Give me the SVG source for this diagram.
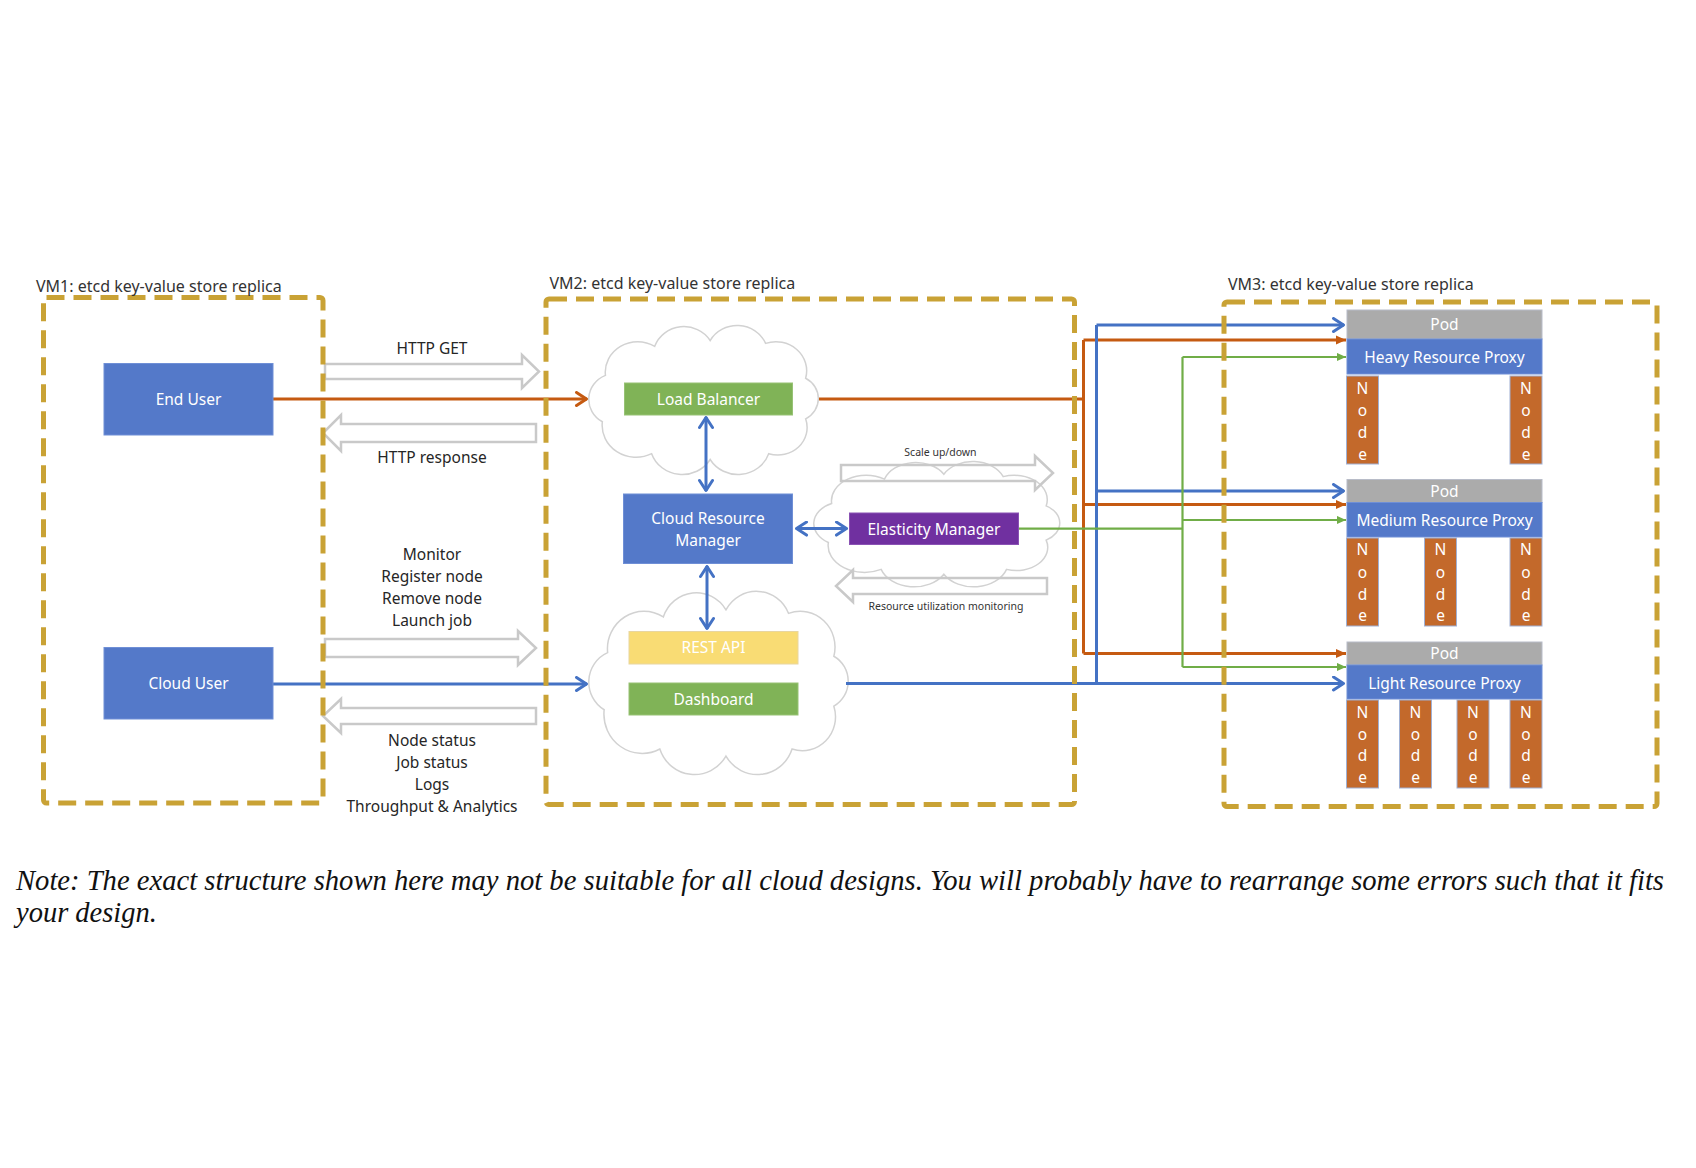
<svg xmlns="http://www.w3.org/2000/svg" xmlns:xlink="http://www.w3.org/1999/xlink" width="1696" height="1168" viewBox="0 0 1696 1168">
<style>
  text { font-family: "Noto Sans", "Open Sans", sans-serif; }
  .vm { fill: none; stroke: #C9A235; stroke-width: 5; stroke-dasharray: 18 9; stroke-linejoin: round; }
  .vml { font-size: 16px; fill: #333; }
  .lbl { font-size: 15.5px; fill: #262626; text-anchor: middle; }
  .sm { font-size: 10.5px; fill: #333; text-anchor: middle; }
  .nt { font-size: 15.5px; fill: #fff; text-anchor: middle; }
  .hollow { fill: none; stroke: #C9C9C9; stroke-width: 2.5; }
  .cloud { fill: #fff; stroke: #D2D2D2; stroke-width: 1.5; }
  .bl { fill: none; stroke: #4472C4; stroke-width: 3; }
  .ol { fill: none; stroke: #C55A11; stroke-width: 3; }
  .gl { fill: none; stroke: #70AD47; stroke-width: 2.2; }
  .nblue { fill: #5479C9; stroke: #6F8FD6; stroke-width: 1; }
  .ngreen { fill: #80B357; stroke: #97C275; stroke-width: 1; }
  .nyellow { fill: #F9DC74; stroke: #E8D6A0; stroke-width: 1; }
  .npurple { fill: #7030A0; stroke: #8A52B4; stroke-width: 1; }
  .npod { fill: #ABABAB; stroke: #B8BCC8; stroke-width: 1; }
  .nnode { fill: #C3692B; stroke: #9FB0D4; stroke-width: 1; }
  .note { font-family: "Liberation Serif", "Times New Roman", serif; font-style: italic; font-size: 28.5px; fill: #111; }
</style>
<defs>
  <path id="cloudShape" vector-effect="non-scaling-stroke" d="M14,66 A18,18 0 0 1 16,34 A21,21 0 0 1 48,14 A20,20 0 0 1 84,10 A20,20 0 0 1 120,12 A20,20 0 0 1 146,36 A16,16 0 0 1 146,64 A19,19 0 0 1 122,88 A21,21 0 0 1 84,92 A21,21 0 0 1 46,88 A22,22 0 0 1 14,66 Z"/>
  <marker id="chevB" viewBox="0 0 16 16" refX="14.5" refY="8" markerWidth="16" markerHeight="16" markerUnits="userSpaceOnUse" orient="auto-start-reverse">
    <path d="M4,1.5 L14,8 L4,14.5" fill="none" stroke="#4472C4" stroke-width="3" stroke-linecap="round" stroke-linejoin="round"/>
  </marker>
  <marker id="chevO" viewBox="0 0 16 16" refX="14.5" refY="8" markerWidth="16" markerHeight="16" markerUnits="userSpaceOnUse" orient="auto-start-reverse">
    <path d="M4,1.5 L14,8 L4,14.5" fill="none" stroke="#C55A11" stroke-width="3" stroke-linecap="round" stroke-linejoin="round"/>
  </marker>
  <marker id="triO" viewBox="0 0 10 10" refX="10" refY="5" markerWidth="10" markerHeight="10" markerUnits="userSpaceOnUse" orient="auto">
    <path d="M0,0.5 L10,5 L0,9.5 Z" fill="#C55A11"/>
  </marker>
  <marker id="triG" viewBox="0 0 10 10" refX="10" refY="5" markerWidth="9" markerHeight="9" markerUnits="userSpaceOnUse" orient="auto">
    <path d="M0,0.5 L10,5 L0,9.5 Z" fill="#70AD47"/>
  </marker>
</defs>

<!-- clouds -->
<g id="clouds">
  <use xlink:href="#cloudShape" href="#cloudShape" class="cloud" transform="translate(588.5,326) scale(1.54,1.451) translate(-5,0)"/>
  <use xlink:href="#cloudShape" href="#cloudShape" class="cloud" transform="translate(813.5,462) scale(1.65,1.22) translate(-5,0)"/>
  <use xlink:href="#cloudShape" href="#cloudShape" class="cloud" transform="translate(588.5,592) scale(1.74,1.784) translate(-5,0)"/>
</g>

<!-- hollow block arrows -->
<g id="block-arrows">
  <path class="hollow" d="M325,364 H522 V355 L539,371.5 L522,388 V379 H325 Z"/>
  <path class="hollow" d="M536,424 H341 V415 L323,433 L341,451 V442 H536 Z"/>
  <path class="hollow" d="M325,639 H518 V631 L536,648 L518,665 V657 H325 Z"/>
  <path class="hollow" d="M536,708 H341 V699 L323,716 L341,733 V724 H536 Z"/>
  <path class="hollow" d="M841,465 H1035 V456 L1053,473 L1035,490 V481 H841 Z"/>
  <path class="hollow" d="M1047,578 H853 V570 L836,586 L853,602 V594 H1047 Z"/>
</g>

<!-- connectors -->
<g id="connectors">
  <path class="ol" d="M273,399 H587" marker-end="url(#chevO)"/>
  <path class="ol" d="M819,399 H1083.5"/>
  <path class="ol" d="M1083.5,340 V653.5"/>
  <path class="ol" d="M1083.5,340 H1346" marker-end="url(#triO)"/>
  <path class="ol" d="M1083.5,504.5 H1346" marker-end="url(#triO)"/>
  <path class="ol" d="M1083.5,653.5 H1346" marker-end="url(#triO)"/>

  <path class="bl" d="M273,684 H587" marker-end="url(#chevB)"/>
  <path class="bl" d="M846,683.5 H1344" marker-end="url(#chevB)"/>
  <path class="bl" d="M1096.5,325 V683.5"/>
  <path class="bl" d="M1096.5,325 H1344" marker-end="url(#chevB)"/>
  <path class="bl" d="M1096.5,491 H1344" marker-end="url(#chevB)"/>
  <path class="bl" d="M706,417 V491" marker-start="url(#chevB)" marker-end="url(#chevB)"/>
  <path class="bl" d="M707,566 V629" marker-start="url(#chevB)" marker-end="url(#chevB)"/>
  <path class="bl" d="M796,528.6 H847" marker-start="url(#chevB)" marker-end="url(#chevB)"/>

  <path class="gl" d="M1018.6,528.6 H1182.5"/>
  <path class="gl" d="M1182.5,357 V667"/>
  <path class="gl" d="M1182.5,357 H1346" marker-end="url(#triG)"/>
  <path class="gl" d="M1182.5,520 H1346" marker-end="url(#triG)"/>
  <path class="gl" d="M1182.5,667 H1346" marker-end="url(#triG)"/>
</g>

<!-- VM1 nodes -->
<g id="end-user">
  <rect class="nblue" x="104" y="363.5" width="169" height="71.5"/>
  <text class="nt" x="188.5" y="404.5">End User</text>
</g>
<g id="cloud-user">
  <rect class="nblue" x="104" y="647.5" width="169" height="71.5"/>
  <text class="nt" x="188.5" y="689">Cloud User</text>
</g>

<!-- VM2 nodes -->
<g id="load-balancer">
  <rect class="ngreen" x="624.5" y="383" width="168" height="32"/>
  <text class="nt" x="708.5" y="404.5">Load Balancer</text>
</g>
<g id="cloud-resource-manager">
  <rect class="nblue" x="623.5" y="494" width="169" height="69.5"/>
  <text class="nt" x="708" y="523.5">Cloud Resource</text>
  <text class="nt" x="708" y="545.5">Manager</text>
</g>
<g id="elasticity-manager">
  <rect class="npurple" x="849.5" y="513" width="169" height="31.5"/>
  <text class="nt" x="934" y="534.5">Elasticity Manager</text>
</g>
<g id="rest-api">
  <rect class="nyellow" x="629" y="631.5" width="169" height="32.5"/>
  <text class="nt" x="713.5" y="653">REST API</text>
</g>
<g id="dashboard">
  <rect class="ngreen" x="629" y="683" width="169" height="32"/>
  <text class="nt" x="713.5" y="704.5">Dashboard</text>
</g>

<!-- VM3 pods -->
<g id="pod-heavy">
  <rect class="npod" x="1347" y="310" width="195" height="29"/>
  <text class="nt" x="1444.5" y="329.5">Pod</text>
  <rect class="nblue" x="1347" y="339" width="195" height="35"/>
  <text class="nt" x="1444.5" y="363">Heavy Resource Proxy</text>
  <rect class="nnode" x="1346.5" y="376" width="32" height="88"/>
  <text class="nt"><tspan x="1362.5" y="393.5">N</tspan><tspan x="1362.5" y="416">o</tspan><tspan x="1362.5" y="437.5">d</tspan><tspan x="1362.5" y="459.5">e</tspan></text>
  <rect class="nnode" x="1510" y="376" width="32" height="88"/>
  <text class="nt"><tspan x="1526" y="393.5">N</tspan><tspan x="1526" y="416">o</tspan><tspan x="1526" y="437.5">d</tspan><tspan x="1526" y="459.5">e</tspan></text>
</g>
<g id="pod-medium">
  <rect class="npod" x="1347" y="479.5" width="195" height="23"/>
  <text class="nt" x="1444.5" y="496.5">Pod</text>
  <rect class="nblue" x="1347" y="502.5" width="195" height="34.5"/>
  <text class="nt" x="1444.5" y="525.5">Medium Resource Proxy</text>
  <rect class="nnode" x="1346.5" y="538" width="32" height="88"/>
  <text class="nt"><tspan x="1362.5" y="554.5">N</tspan><tspan x="1362.5" y="578">o</tspan><tspan x="1362.5" y="599.5">d</tspan><tspan x="1362.5" y="620.5">e</tspan></text>
  <rect class="nnode" x="1424.5" y="538" width="32" height="88"/>
  <text class="nt"><tspan x="1440.5" y="554.5">N</tspan><tspan x="1440.5" y="578">o</tspan><tspan x="1440.5" y="599.5">d</tspan><tspan x="1440.5" y="620.5">e</tspan></text>
  <rect class="nnode" x="1510" y="538" width="32" height="88"/>
  <text class="nt"><tspan x="1526" y="554.5">N</tspan><tspan x="1526" y="578">o</tspan><tspan x="1526" y="599.5">d</tspan><tspan x="1526" y="620.5">e</tspan></text>
</g>
<g id="pod-light">
  <rect class="npod" x="1347" y="642" width="195" height="23"/>
  <text class="nt" x="1444.5" y="659">Pod</text>
  <rect class="nblue" x="1347" y="665" width="195" height="34"/>
  <text class="nt" x="1444.5" y="688.5">Light Resource Proxy</text>
  <rect class="nnode" x="1346.5" y="700" width="32" height="88"/>
  <text class="nt"><tspan x="1362.5" y="717.5">N</tspan><tspan x="1362.5" y="739.5">o</tspan><tspan x="1362.5" y="760.5">d</tspan><tspan x="1362.5" y="782.5">e</tspan></text>
  <rect class="nnode" x="1399.5" y="700" width="32" height="88"/>
  <text class="nt"><tspan x="1415.5" y="717.5">N</tspan><tspan x="1415.5" y="739.5">o</tspan><tspan x="1415.5" y="760.5">d</tspan><tspan x="1415.5" y="782.5">e</tspan></text>
  <rect class="nnode" x="1457" y="700" width="32" height="88"/>
  <text class="nt"><tspan x="1473" y="717.5">N</tspan><tspan x="1473" y="739.5">o</tspan><tspan x="1473" y="760.5">d</tspan><tspan x="1473" y="782.5">e</tspan></text>
  <rect class="nnode" x="1510" y="700" width="32" height="88"/>
  <text class="nt"><tspan x="1526" y="717.5">N</tspan><tspan x="1526" y="739.5">o</tspan><tspan x="1526" y="760.5">d</tspan><tspan x="1526" y="782.5">e</tspan></text>
</g>

<!-- VM frames -->
<g id="vm1">
  <rect class="vm" x="43.5" y="297.5" width="279.5" height="505.5" rx="3"/>
  <text class="vml" x="36" y="292">VM1: etcd key-value store replica</text>
</g>
<g id="vm2">
  <rect class="vm" x="546" y="299" width="528.5" height="505.5" rx="3"/>
  <text class="vml" x="549.5" y="288.5">VM2: etcd key-value store replica</text>
</g>
<g id="vm3">
  <rect class="vm" x="1224" y="302" width="433" height="504.5" rx="3"/>
  <text class="vml" x="1228" y="290">VM3: etcd key-value store replica</text>
</g>

<!-- arrow labels -->
<g id="labels">
  <text class="lbl" x="432" y="353.5">HTTP GET</text>
  <text class="lbl" x="432" y="463">HTTP response</text>
  <text class="lbl" x="432" y="560">Monitor</text>
  <text class="lbl" x="432" y="582">Register node</text>
  <text class="lbl" x="432" y="603.5">Remove node</text>
  <text class="lbl" x="432" y="625.5">Launch job</text>
  <text class="lbl" x="432" y="745.5">Node status</text>
  <text class="lbl" x="432" y="768">Job status</text>
  <text class="lbl" x="432" y="790">Logs</text>
  <text class="lbl" x="432" y="811.5">Throughput &amp; Analytics</text>
  <text class="sm" x="940.5" y="456">Scale up/down</text>
  <text class="sm" x="946" y="610">Resource utilization monitoring</text>
</g>

<text class="note" x="16" y="890" textLength="1648" lengthAdjust="spacingAndGlyphs">Note: The exact structure shown here may not be suitable for all cloud designs. You will probably have to rearrange some errors such that it fits</text>
<text class="note" x="16" y="922">your design.</text>
</svg>
